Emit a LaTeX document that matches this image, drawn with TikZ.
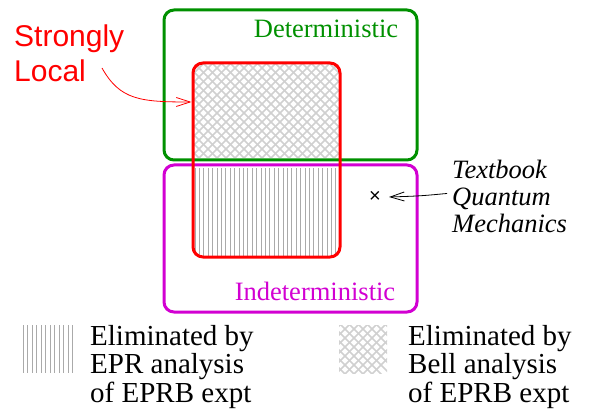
\documentclass[tikz,border=0pt]{standalone}
\usepackage{fontspec}
\newfontfamily\seriflabel{Liberation Serif}
\newfontfamily\sanslabel{Liberation Sans}
\usetikzlibrary{arrows.meta}

\definecolor{detgreen}{RGB}{0,144,0}
\definecolor{indmagenta}{RGB}{210,0,210}
\definecolor{hatchgray}{RGB}{208,208,208}
\definecolor{stripegray}{RGB}{170,170,170}

\tikzset{
  setbox/.style={rounded corners=10pt, line width=3pt, inner sep=0pt},
  hatch/.style={hatchgray, line width=1.5pt},
  stripe/.style={stripegray, line width=0.9pt},
  pointer/.style={-{Straight Barb[length=14pt,width=9pt]}, line width=0.8pt},
  serifbody/.style={inner sep=0pt, align=left, font=\seriflabel\fontsize{29}{28.5}\selectfont},
  legend/.style={serifbody, anchor=north west},
}

\begin{document}
\begin{tikzpicture}[x=1pt, y=-1pt]
\useasboundingbox (0,0) rectangle (592,409);

% cross hatching: upper part of the strongly local box
\begin{scope}
\clip[rounded corners=10pt] (193,63) rectangle (340,257);
\clip (150,50) rectangle (360,158);
\foreach \i in {-3,...,40}
 {\draw[hatch] (100+\i*9,50) -- ++(120,120);
  \draw[hatch] (100+\i*9,50) -- ++(-120,120);}
\end{scope}

% vertical stripes: lower part
\begin{scope}
\clip[rounded corners=10pt] (193,63) rectangle (340,257);
\foreach \i in {0,...,33}
 \draw[stripe] (195+\i*4.4,168) -- ++(0,95);
\end{scope}

\node[setbox, draw=detgreen, minimum width=253pt, minimum height=150pt] (det) at (290.5,85) {};
\node[setbox, draw=indmagenta, minimum width=253pt, minimum height=147pt] (indet) at (290.5,238.5) {};
\node[setbox, draw=red, minimum width=147pt, minimum height=194pt] (local) at (266.5,160) {};

% legend
\foreach \i in {0,...,11}
 \draw[stripe] (23+\i*4.5,325) -- ++(0,48);
\begin{scope}
\clip (339,325) rectangle (387,373);
\foreach \i in {-8,...,14}
 {\draw[hatch] (300+\i*9,320) -- ++(60,60);
  \draw[hatch] (300+\i*9,320) -- ++(-60,60);}
\end{scope}
\node[legend] (eprtxt) at (90,325) {Eliminated by\\EPR analysis\\of EPRB expt};
\node[legend] (belltxt) at (408,325) {Eliminated by\\Bell analysis\\of EPRB expt};

% same font size as the legend, scaled down
\begin{scope}[shift={(326,38)}, scale=0.914, transform shape]
\node[serifbody, anchor=base, text=detgreen] (dettxt) at (0,0) {Deterministic};
\end{scope}
\begin{scope}[shift={(315,300)}, scale=0.914, transform shape]
\node[serifbody, anchor=base, text=indmagenta] (indettxt) at (0,0) {Indeterministic};
\end{scope}
\begin{scope}[shift={(452,160)}, scale=0.914, transform shape]
\node[serifbody, anchor=north west, font=\seriflabel\itshape\fontsize{29}{29.5}\selectfont] (qmtxt) at (0,0) {Textbook\\Quantum\\Mechanics};
\end{scope}

\node[inner sep=0pt, font=\sanslabel\fontsize{20}{20}\selectfont] (qm) at (375,197) {×};
\draw[pointer, shorten <=5pt] (qmtxt.west |- 0,193) .. controls (420,196) .. ([xshift=8pt]qm.east);

\node[anchor=north west, inner sep=0pt, align=left, text=red, font=\sanslabel\fontsize{30}{35}\selectfont] (strong) at (14,25) {Strongly\\Local};
\coordinate (strongtail) at (102,68);
\draw[red, pointer] (strongtail) .. controls (120,100) and (140,102) .. (local.west |- 0,102);

\end{tikzpicture}
\end{document}
